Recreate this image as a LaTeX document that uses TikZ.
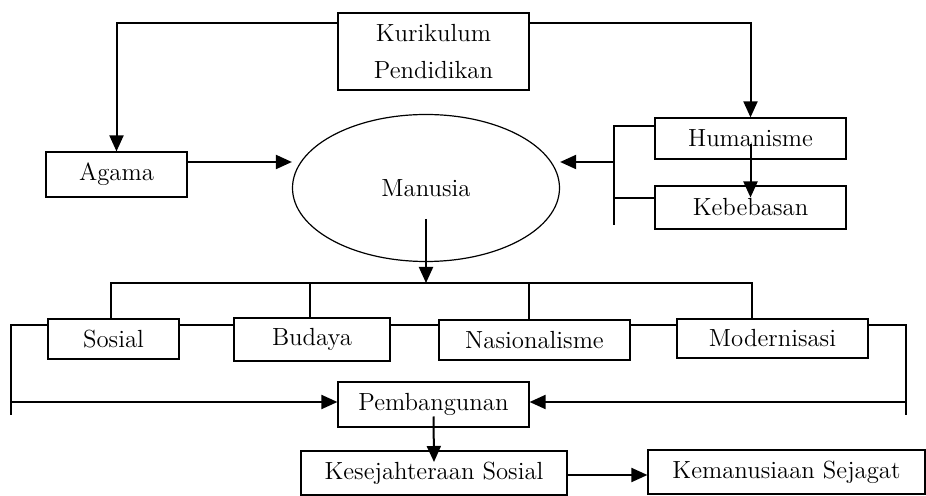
\documentclass[tikz,border=0pt]{standalone}
\usetikzlibrary{arrows.meta,shapes.geometric}
\tikzset{
  box/.style={draw,semithick,inner sep=0pt,font=\fontsize{12.4}{18.5}\selectfont,align=center},
  link/.style={semithick},
  arr/.style={line width=1pt,-{Triangle[length=8pt,width=7pt]}}
}
\begin{document}
\begin{tikzpicture}[x=0.5pt,y=-0.5pt]
	\useasboundingbox (0,0) rectangle (926,496);
	\node[box,minimum width=95.5pt,minimum height=38.5pt] (kur) at (433.5,51.5) {Kurikulum\\Pendidikan};
	\node[box,minimum width=70.5pt,minimum height=22.5pt] (aga) at (116.5,174.5) {Agama};
	\node[box,ellipse,minimum width=133.5pt,minimum height=73.5pt] (man) at (426,188) {Manusia};
	\node[box,minimum width=95.5pt,minimum height=20.5pt] (hum) at (750.5,138.5) {Humanisme};
	\node[box,minimum width=95.5pt,minimum height=21.5pt] (keb) at (750.5,207.5) {Kebebasan};
	\node[box,minimum width=65.5pt,minimum height=20pt] (sos) at (113.5,339) {Sosial};
	\node[box,minimum width=78pt,minimum height=21.5pt] (bud) at (312,339.5) {Budaya};
	\node[box,minimum width=95.5pt,minimum height=20pt] (nas) at (534.5,340) {Nasionalisme};
	\node[box,minimum width=95.5pt,minimum height=19.5pt] (mod) at (772.5,338.5) {Modernisasi};
	\node[box,minimum width=95.5pt,minimum height=22.5pt] (pem) at (433.5,404.5) {Pembangunan};
	\node[box,minimum width=133pt,minimum height=22pt] (kes) at (434,473) {Kesejahteraan Sosial};
	\node[box,minimum width=138.5pt,minimum height=22pt] (kem) at (786.5,472) {Kemanusiaan Sejagat};

	\coordinate (brt) at (614,126);
	\coordinate (brb) at (614,225);
	\coordinate (br) at (426,283);
	\coordinate (brr) at (752,283);
	\coordinate (ll) at (11,325);
	\coordinate (rr) at (906,325);

	\draw[arr] (kur.west |- 0,23) -| (aga.north);
	\draw[arr] (kur.east |- 0,23) -| (hum.north);
	\draw[arr] (aga.east |- 0,162) -- (man.west |- 0,162);
	\draw[link] (hum.west |- brt) -- (brt) -- (brb);
	\draw[link] (keb.west |- 0,198) -- (brt |- 0,198);
	\draw[arr] (brt |- 0,162) -- (man.east |- 0,162);
	\draw[arr] ([yshift=-3pt]hum.center) -- ([yshift=5pt]keb.center);

	\draw[arr] ([yshift=-15.5pt]man.center) -- (br);
	\draw[link] (sos.north -| 111,0) |- (brr) -- (brr |- mod.north);
	\draw[link] (bud.north -| 310,0) -- (310,283);
	\draw[link] (nas.north -| 529,0) -- (529,283);

	\draw[link] (ll |- 0,415) -- (ll) -- (sos.west |- ll);
	\draw[link] (sos.east |- ll) -- (bud.west |- ll);
	\draw[link] (bud.east |- ll) -- (nas.west |- ll);
	\draw[link] (nas.east |- ll) -- (mod.west |- ll);
	\draw[link] (mod.east |- rr) -- (rr) -- (rr |- 0,415);
	\draw[arr] (ll |- 0,402) -- (pem.west |- 0,402);
	\draw[arr] (rr |- 0,402) -- (pem.east |- 0,402);

	\draw[arr] ([yshift=-6pt]pem.center) -- ([yshift=5.5pt]kes.center);
	\draw[arr] (kes.east |- 0,475) -- (kem.west |- 0,475);
\end{tikzpicture}
\end{document}
